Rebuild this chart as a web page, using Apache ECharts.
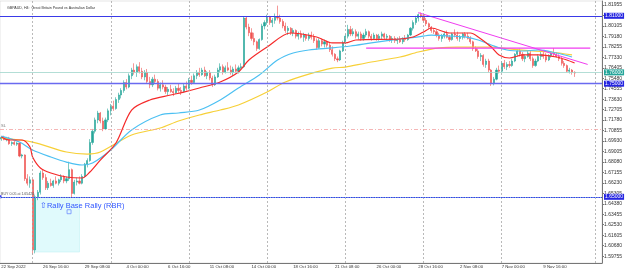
<!DOCTYPE html>
<html>
<head>
<meta charset="utf-8">
<script src="https://cdn.jsdelivr.net/npm/echarts@6.0.0/dist/echarts.min.js"></script>
<style>
  html, body { margin: 0; padding: 0; background: #fff; }
  #chart { width: 625px; height: 274px; }
</style>
</head>
<body>
<div id="chart"></div>
<script>
// GBPAUD H4, one bar every 4 hours starting 22 Sep 2022 00:00
const barCount = 231

const tickLabels = ['22 Sep 2022', '26 Sep 16:00', '29 Sep 08:00', '4 Oct 00:00', '6 Oct 16:00',
  '11 Oct 08:00', '14 Oct 00:00', '18 Oct 16:00', '21 Oct 08:00', '26 Oct 00:00',
  '28 Oct 16:00', '2 Nov 08:00', '7 Nov 00:00', '9 Nov 16:00']

const priceTicks = [1.59755, 1.60680, 1.61605, 1.62530, 1.63455, 1.64380, 1.65305, 1.66230,
  1.67155, 1.68080, 1.69005, 1.69930, 1.70855, 1.71780, 1.72705, 1.73630, 1.74555, 1.75480,
  1.76405, 1.77330, 1.78255, 1.79180, 1.80105, 1.81030, 1.81955]

// weekly separators (Monday 00:00), bar index
const weekBars = [12, 42, 72, 102, 132, 162, 192, 228]

// [open, high, low, close]
const ohlc = [
  [1.7010,1.7035,1.6995,1.7025],[1.7025,1.7040,1.7000,1.7005],[1.7005,1.7030,1.6990,1.7020],
  [1.7020,1.7030,1.6960,1.6970],[1.6970,1.6990,1.6950,1.6980],[1.6980,1.6995,1.6955,1.6965],
  [1.6965,1.6985,1.6950,1.6975],[1.6975,1.6980,1.6850,1.6860],[1.6860,1.6880,1.6840,1.6870],
  [1.6870,1.6875,1.6640,1.6660],[1.6660,1.6700,1.6600,1.6620],[1.6620,1.6680,1.6580,1.6650],
  [1.6650,1.6660,1.5990,1.6030],[1.6030,1.6520,1.6000,1.6500],[1.6500,1.6560,1.6470,1.6540],
  [1.6540,1.6730,1.6520,1.6710],[1.6710,1.6740,1.6650,1.6670],[1.6670,1.6700,1.6560,1.6580],
  [1.6580,1.6640,1.6560,1.6620],[1.6620,1.6660,1.6590,1.6600],[1.6600,1.6650,1.6580,1.6640],
  [1.6640,1.6680,1.6610,1.6620],[1.6620,1.6660,1.6600,1.6650],[1.6650,1.6700,1.6630,1.6680],
  [1.6680,1.6690,1.6620,1.6640],[1.6640,1.6680,1.6620,1.6660],[1.6660,1.6810,1.6640,1.6740],
  [1.6740,1.6750,1.6490,1.6530],[1.6530,1.6650,1.6520,1.6630],[1.6630,1.6670,1.6600,1.6640],
  [1.6640,1.6680,1.6610,1.6620],[1.6620,1.6700,1.6610,1.6680],[1.6680,1.6800,1.6670,1.6790],
  [1.6790,1.6840,1.6760,1.6820],[1.6820,1.7010,1.6810,1.6980],[1.6980,1.7100,1.6960,1.7080],
  [1.7080,1.7200,1.7060,1.7180],[1.7180,1.7260,1.7150,1.7240],[1.7240,1.7250,1.7150,1.7170],
  [1.7170,1.7200,1.7080,1.7100],[1.7100,1.7200,1.7090,1.7180],[1.7180,1.7280,1.7160,1.7260],
  [1.7260,1.7320,1.7220,1.7300],[1.7300,1.7350,1.7260,1.7280],[1.7280,1.7380,1.7270,1.7360],
  [1.7360,1.7420,1.7330,1.7400],[1.7400,1.7460,1.7370,1.7440],[1.7440,1.7530,1.7420,1.7510],
  [1.7510,1.7540,1.7450,1.7470],[1.7470,1.7590,1.7460,1.7570],[1.7570,1.7640,1.7540,1.7620],
  [1.7620,1.7680,1.7580,1.7600],[1.7600,1.7670,1.7560,1.7650],[1.7650,1.7690,1.7590,1.7610],
  [1.7610,1.7640,1.7540,1.7560],[1.7560,1.7620,1.7530,1.7600],[1.7600,1.7630,1.7500,1.7520],
  [1.7520,1.7560,1.7460,1.7490],[1.7490,1.7560,1.7470,1.7540],[1.7540,1.7580,1.7500,1.7520],
  [1.7520,1.7540,1.7440,1.7460],[1.7460,1.7510,1.7430,1.7490],[1.7490,1.7530,1.7450,1.7470],
  [1.7470,1.7490,1.7410,1.7430],[1.7430,1.7470,1.7400,1.7450],[1.7450,1.7490,1.7420,1.7430],
  [1.7430,1.7460,1.7390,1.7420],[1.7420,1.7480,1.7410,1.7460],[1.7460,1.7500,1.7420,1.7440],
  [1.7440,1.7470,1.7400,1.7430],[1.7430,1.7500,1.7420,1.7480],[1.7480,1.7520,1.7440,1.7460],
  [1.7460,1.7550,1.7450,1.7530],[1.7530,1.7570,1.7490,1.7510],[1.7510,1.7590,1.7500,1.7570],
  [1.7570,1.7620,1.7540,1.7600],[1.7600,1.7640,1.7560,1.7580],[1.7580,1.7640,1.7570,1.7620],
  [1.7620,1.7650,1.7560,1.7570],[1.7570,1.7610,1.7540,1.7600],[1.7600,1.7620,1.7530,1.7550],
  [1.7550,1.7570,1.7470,1.7490],[1.7490,1.7580,1.7480,1.7560],[1.7560,1.7640,1.7550,1.7620],
  [1.7620,1.7680,1.7600,1.7650],[1.7650,1.7670,1.7580,1.7600],[1.7600,1.7660,1.7590,1.7640],
  [1.7640,1.7690,1.7610,1.7620],[1.7620,1.7660,1.7580,1.7600],[1.7600,1.7650,1.7570,1.7630],
  [1.7630,1.7670,1.7600,1.7610],[1.7610,1.7660,1.7590,1.7640],[1.7640,1.7680,1.7620,1.7650],
  [1.7650,1.8095,1.7640,1.8080],[1.8080,1.8090,1.7980,1.8000],[1.8000,1.8030,1.7920,1.7950],
  [1.7950,1.7990,1.7880,1.7900],[1.7900,1.7950,1.7840,1.7870],[1.7870,1.7880,1.7790,1.7810],
  [1.7810,1.7900,1.7800,1.7890],[1.7890,1.8030,1.7880,1.8010],[1.8010,1.8060,1.7980,1.8040],
  [1.8040,1.8110,1.8020,1.8090],[1.8090,1.8100,1.8020,1.8040],[1.8040,1.8080,1.8000,1.8060],
  [1.8060,1.8120,1.8030,1.8090],[1.8090,1.8190,1.8060,1.8080],[1.8080,1.8110,1.8030,1.8050],
  [1.8050,1.8070,1.7990,1.8010],[1.8010,1.8040,1.7950,1.7970],[1.7970,1.8010,1.7930,1.7990],
  [1.7990,1.8000,1.7930,1.7950],[1.7950,1.7990,1.7920,1.7970],[1.7970,1.7980,1.7900,1.7920],
  [1.7920,1.7960,1.7890,1.7940],[1.7940,1.7970,1.7900,1.7910],[1.7910,1.7950,1.7870,1.7930],
  [1.7930,1.7940,1.7880,1.7900],[1.7900,1.7950,1.7880,1.7930],[1.7930,1.7960,1.7890,1.7910],
  [1.7910,1.7940,1.7860,1.7880],[1.7880,1.7900,1.7800,1.7820],[1.7820,1.7900,1.7810,1.7880],
  [1.7880,1.7900,1.7830,1.7850],[1.7850,1.7890,1.7820,1.7870],[1.7870,1.7880,1.7820,1.7840],
  [1.7840,1.7860,1.7780,1.7800],[1.7800,1.7830,1.7740,1.7760],[1.7760,1.7770,1.7700,1.7720],
  [1.7720,1.7740,1.7690,1.7710],[1.7710,1.7800,1.7700,1.7790],[1.7790,1.7880,1.7780,1.7860],
  [1.7860,1.7940,1.7850,1.7920],[1.7920,1.8020,1.7900,1.7980],[1.7980,1.8010,1.7920,1.7940],
  [1.7940,1.7990,1.7920,1.7960],[1.7960,1.7980,1.7900,1.7920],[1.7920,1.7960,1.7890,1.7940],
  [1.7940,1.7960,1.7880,1.7900],[1.7900,1.7950,1.7880,1.7930],[1.7930,1.7985,1.7910,1.7960],
  [1.7960,1.7970,1.7900,1.7920],[1.7920,1.7940,1.7880,1.7900],[1.7900,1.7950,1.7890,1.7930],
  [1.7930,1.7940,1.7880,1.7900],[1.7900,1.7940,1.7880,1.7920],[1.7920,1.7960,1.7890,1.7940],
  [1.7940,1.7950,1.7890,1.7910],[1.7910,1.7940,1.7880,1.7920],[1.7920,1.7930,1.7870,1.7890],
  [1.7890,1.7920,1.7860,1.7900],[1.7900,1.7920,1.7860,1.7880],[1.7880,1.7910,1.7850,1.7890],
  [1.7890,1.7920,1.7860,1.7870],[1.7870,1.7910,1.7850,1.7900],[1.7900,1.7930,1.7870,1.7890],
  [1.7890,1.7940,1.7880,1.7930],[1.7930,1.8000,1.7920,1.7990],[1.7990,1.8060,1.7970,1.8040],
  [1.8040,1.8100,1.8020,1.8080],[1.8080,1.8120,1.8050,1.8110],[1.8110,1.8130,1.8080,1.8100],
  [1.8100,1.8110,1.8040,1.8060],[1.8060,1.8080,1.8010,1.8030],[1.8030,1.8040,1.7980,1.8000],
  [1.8000,1.8010,1.7950,1.7970],[1.7970,1.7990,1.7940,1.7960],[1.7960,1.7980,1.7910,1.7930],
  [1.7930,1.7950,1.7880,1.7900],[1.7900,1.7940,1.7870,1.7920],[1.7920,1.7960,1.7900,1.7940],
  [1.7940,1.7970,1.7900,1.7910],[1.7910,1.7930,1.7870,1.7890],[1.7890,1.7950,1.7880,1.7940],
  [1.7940,1.7980,1.7910,1.7930],[1.7930,1.7960,1.7880,1.7900],[1.7900,1.7930,1.7870,1.7910],
  [1.7910,1.7950,1.7890,1.7940],[1.7940,1.7955,1.7900,1.7920],[1.7920,1.7950,1.7890,1.7900],
  [1.7900,1.7920,1.7850,1.7870],[1.7870,1.7880,1.7790,1.7810],[1.7810,1.7830,1.7780,1.7790],
  [1.7790,1.7810,1.7720,1.7740],[1.7740,1.7770,1.7700,1.7750],[1.7750,1.7760,1.7650,1.7670],
  [1.7670,1.7720,1.7640,1.7700],[1.7700,1.7720,1.7600,1.7620],[1.7620,1.7630,1.7480,1.7500],
  [1.7500,1.7560,1.7485,1.7540],[1.7540,1.7640,1.7530,1.7620],[1.7620,1.7660,1.7590,1.7610],
  [1.7610,1.7700,1.7600,1.7680],[1.7680,1.7710,1.7630,1.7650],[1.7650,1.7690,1.7620,1.7670],
  [1.7670,1.7700,1.7640,1.7660],[1.7660,1.7720,1.7650,1.7700],[1.7700,1.7770,1.7690,1.7760],
  [1.7760,1.7805,1.7740,1.7790],[1.7790,1.7810,1.7740,1.7760],[1.7760,1.7780,1.7700,1.7720],
  [1.7720,1.7760,1.7690,1.7740],[1.7740,1.7790,1.7730,1.7770],[1.7770,1.7790,1.7700,1.7720],
  [1.7720,1.7740,1.7640,1.7660],[1.7660,1.7720,1.7650,1.7700],[1.7700,1.7760,1.7690,1.7740],
  [1.7740,1.7780,1.7710,1.7760],[1.7760,1.7790,1.7720,1.7740],[1.7740,1.7770,1.7690,1.7710],
  [1.7710,1.7760,1.7700,1.7750],[1.7750,1.7780,1.7730,1.7770],[1.7770,1.7815,1.7740,1.7760],
  [1.7760,1.7780,1.7730,1.7740],[1.7740,1.7760,1.7700,1.7720],[1.7720,1.7740,1.7660,1.7680],
  [1.7680,1.7700,1.7640,1.7660],[1.7660,1.7670,1.7600,1.7610],[1.7610,1.7640,1.7590,1.7620],
  [1.7620,1.7630,1.7580,1.7600],[1.7600,1.7610,1.7560,1.7594]
]

// moving averages, [bar, price]
const maFast = [[0,1.7029],[3,1.7002],[8,1.7002],[11,1.6940],[12,1.6852],[15,1.6755],[19,1.6710],
  [25,1.6675],[31,1.6666],[34,1.6719],[38,1.6825],[44,1.6976],[50,1.7267],[57,1.7356],[65,1.7400],
  [70,1.7426],[76,1.7462],[84,1.7515],[91,1.7603],[95,1.7709],[102,1.7824],[111,1.7948],[121,1.7913],
  [127,1.7860],[132,1.7860],[136,1.7886],[153,1.7895],[158,1.7913],[162,1.7957],[165,1.7992],
  [172,1.7948],[180,1.7948],[183,1.7913],[188,1.7824],[191,1.7754],[195,1.7727],[200,1.7754],
  [206,1.7754],[213,1.7736],[217,1.7709],[220,1.7683]]
const maMid = [[0,1.7037],[7,1.6984],[12,1.6914],[19,1.6852],[25,1.6807],[31,1.6781],[35,1.6799],
  [42,1.6914],[50,1.7091],[61,1.7223],[68,1.7241],[76,1.7267],[84,1.7356],[91,1.7462],[99,1.7577],
  [106,1.7709],[112,1.7771],[118,1.7798],[127,1.7816],[134,1.7833],[142,1.7860],[153,1.7895],
  [160,1.7913],[165,1.7930],[172,1.7921],[178,1.7913],[183,1.7886],[188,1.7842],[194,1.7798],
  [200,1.7789],[206,1.7798],[213,1.7771],[219,1.7736]]
const maSlow = [[0,1.7020],[12,1.6984],[25,1.6896],[33,1.6878],[38,1.6896],[50,1.7046],[61,1.7108],
  [68,1.7170],[76,1.7223],[84,1.7267],[91,1.7312],[102,1.7427],[109,1.7515],[118,1.7585],
  [127,1.7638],[132,1.7647],[140,1.7683],[153,1.7736],[160,1.7780],[168,1.7816],[175,1.7824],
  [182,1.7824],[188,1.7824],[195,1.7807],[204,1.7789],[211,1.7780],[219,1.7754]]

// drawn objects
const trendDown = [[160, 1.8128], [225, 1.7670]]
const trendFlat = [[140, 1.7815], [226, 1.7815]]
const levelTop = 1.81030
const levelMid = 1.74795
const levelBase = 1.64955
const bidPrice = 1.75940
const slPrice = 1.71260
const buyPrice = 1.65420
const rbrBox = { from: 13, to: 30, top: 1.64955, bottom: 1.6012 }
const rbrAnchor = [26, 1.6368]

const cats = Array.from({ length: barCount }, (_, i) => String(i))
const candleData = ohlc.map(r => [r[0], r[3], r[2], r[1]])

const axisFont = 'Liberation Sans, Arial, sans-serif'
const showTick = i => i % 16 === 0 && i / 16 < tickLabels.length

function levelLine(value, color, bg, width) {
  return {
    yAxis: value,
    lineStyle: { color: color, width: width || 1.2, type: 'solid' },
    label: {
      show: true, position: 'end', distance: 2,
      formatter: p => p.value.toFixed(5),
      backgroundColor: bg, color: '#fff', fontSize: 5, fontFamily: axisFont,
      padding: [1, 1, 0, 1]
    }
  }
}

const chart = echarts.init(document.getElementById('chart'))
chart.setOption({
  animation: false,
  backgroundColor: '#fff',
  title: {
    text: 'GBPAUD, H4:  Great Britain Pound vs Australian Dollar',
    left: 2, top: 1,
    textStyle: { fontSize: 3.6, fontWeight: 'normal', color: '#333', fontFamily: axisFont }
  },
  grid: {
    left: 0, right: 23, top: 1, bottom: 11,
    outerBoundsMode: 'none',
    show: true, borderColor: '#c8c8c8', borderWidth: 0.5
  },
  xAxis: {
    type: 'category',
    data: cats,
    boundaryGap: true,
    axisLine: { lineStyle: { color: '#777', width: 1 } },
    axisTick: { interval: showTick, alignWithLabel: true, length: 2, lineStyle: { color: '#777' } },
    axisLabel: {
      interval: showTick,
      formatter: (v, i) => tickLabels[i / 16] || '',
      align: 'left', margin: 2,
      fontSize: 4.3, color: '#333', fontFamily: axisFont
    },
    splitLine: { show: false }
  },
  yAxis: {
    type: 'value',
    position: 'right',
    min: 1.59148, max: 1.82309,
    axisLine: { show: true, lineStyle: { color: '#777', width: 1 } },
    axisTick: { show: true, customValues: priceTicks, length: 2, lineStyle: { color: '#777' } },
    axisLabel: {
      customValues: priceTicks,
      formatter: v => v.toFixed(5),
      margin: 2, fontSize: 5, color: '#333', fontFamily: axisFont
    },
    splitLine: { show: false }
  },
  series: [
    {
      name: 'weeks',
      type: 'line',
      data: [],
      markLine: {
        silent: true, symbol: 'none', animation: false,
        label: { show: false },
        lineStyle: { color: '#a8a8a8', type: [2, 2], width: 0.8 },
        data: weekBars.map(b => ({ xAxis: b }))
      }
    },
    {
      name: 'GBPAUD',
      type: 'candlestick',
      data: candleData,
      barWidth: 1.6,
      itemStyle: {
        color: '#26a69a', color0: '#ef5350',
        borderColor: '#26a69a', borderColor0: '#ef5350', borderWidth: 0.6
      },
      markArea: {
        silent: true,
        itemStyle: { color: '#e0fafc', borderColor: '#b8eef2', borderWidth: 0.5 },
        label: {
          show: true, position: 'insideTopLeft', distance: 5,
          formatter: '⇧Rally Base Rally (RBR)',
          color: '#3358ff', fontSize: 7.5, fontFamily: axisFont
        },
        data: [[{ xAxis: rbrBox.from, yAxis: rbrBox.top }, { xAxis: rbrBox.to, yAxis: rbrBox.bottom }]]
      },
      markPoint: {
        silent: true, animation: false,
        symbol: 'rect', symbolSize: 4,
        itemStyle: { color: 'rgba(255,255,255,0)', borderColor: '#6f8cff', borderWidth: 0.8 },
        label: { show: false },
        data: [{ coord: rbrAnchor }]
      },
      markLine: {
        silent: true, symbol: 'none', animation: false,
        data: [
          levelLine(levelTop, '#3a3ae8', '#2525e0'),
          levelLine(levelMid, '#6a6af0', '#2525e0', 1.4),
          Object.assign(levelLine(levelBase, '#3a3ae8', '#2525e0'), { symbol: ['rect', 'none'], symbolSize: 3 }),
          levelLine(bidPrice, '#9fd6cc', '#26a69a', 0.8),
          {
            yAxis: slPrice,
            lineStyle: { color: '#f3a3a3', type: [4, 2, 1, 2], width: 0.8 },
            label: { show: true, position: 'insideStartTop', distance: 1, formatter: 'SL',
              color: '#777', fontSize: 4, fontFamily: axisFont }
          },
          {
            yAxis: buyPrice,
            lineStyle: { color: '#8fd8d8', type: [1, 1.5], width: 0.8 },
            label: { show: true, position: 'insideStartTop', distance: 1,
              formatter: 'BUY 0.05 at ' + buyPrice.toFixed(5),
              color: '#555', fontSize: 3.6, fontFamily: axisFont }
          }
        ]
      }
    },
    { name: 'MA slow', type: 'line', data: maSlow, smooth: 0.3, symbol: 'none',
      lineStyle: { color: '#f7d038', width: 1.2 } },
    { name: 'MA mid', type: 'line', data: maMid, smooth: 0.3, symbol: 'none',
      lineStyle: { color: '#4cc0f2', width: 1.2 } },
    { name: 'MA fast', type: 'line', data: maFast, smooth: 0.3, symbol: 'none',
      lineStyle: { color: '#f52a2a', width: 1.2 } },
    { name: 'trend down', type: 'line', data: trendDown, symbol: 'none',
      lineStyle: { color: '#f03cf0', width: 1 } },
    { name: 'trend flat', type: 'line', data: trendFlat, symbol: 'none',
      lineStyle: { color: '#f03cf0', width: 1.2 } }
  ]
})
</script>
</body>
</html>
